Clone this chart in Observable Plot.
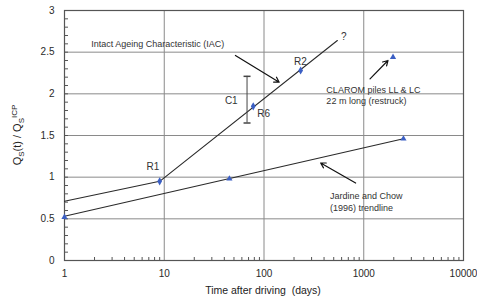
<!DOCTYPE html>
<html><head>
<meta charset="utf-8">
<script src="https://cdn.jsdelivr.net/npm/d3@7"></script>
<script src="https://cdn.jsdelivr.net/npm/@observablehq/plot@0.6"></script>
<style>body{margin:0;background:#fff}svg{display:block}</style>
</head><body><div id="chart"></div>
<script>
// Jardine and Chow (1996) data points and trendline
const jcDays = [1, 45, 2500];
const jcRatio = [0.52, 0.98, 1.46];
const jcTrendDays = [1, 2500];
const jcTrendRatio = [0.53, 1.46];
// Intact Ageing Characteristic
const iacLowDays = [1, 9];
const iacLowRatio = [0.71, 0.95];
const iacDays = [9, 544];
const iacRatio = [0.95, 2.64];
// Restrike tests
const rLabels = ["R1", "R6", "R2"];
const rDays = [9, 78, 233];
const rRatio = [0.95, 1.85, 2.28];
const rLabelDays = [7.7, 99, 232];
const rLabelRatio = [1.12, 1.76, 2.38];
// CLAROM
const claromDays = [1965];
const claromRatio = [2.44];
// C1 range
const c1Days = 67.6, c1Low = 1.65, c1High = 2.21;
const c1LabelDays = 47, c1LabelRatio = 1.92;
// annotations
const noteText = ["Intact Ageing Characteristic (IAC)", "CLAROM piles LL & LC\n22 m long (restruck)", "Jardine and Chow\n(1996) trendline", "?"];
const noteDays = [1.85, 422, 459, 590];
const noteRatio = [2.61, 1.985, 0.71, 2.7];
const arrowFromDays = [51.7, 1156, 829];
const arrowFromRatio = [2.46, 2.18, 0.93];
const arrowToDays = [142, 1750, 370];
const arrowToRatio = [2.14, 2.40, 1.17];
// axes
const xTicks = [1, 10, 100, 1000, 10000];
const yTicks = [0, 0.5, 1, 1.5, 2, 2.5, 3];
const gridDays = [10, 100, 1000];
const gridRatio = [0.5, 1, 1.5, 2, 2.5];
const minorRatio = d3.range(1, 30).map(i => i / 10);
const minorDays = [1, 10, 100, 1000].flatMap(d => [2,3,4,5,6,7,8,9].map(m => m * d));

const blue = "#3b5fc4";
const ink = "#2a2a2a";
const zip = (xs, ys) => xs.map((x, i) => ({x, y: ys[i]}));
const capSymbol = {draw(ctx) { ctx.moveTo(-3.5, 0); ctx.lineTo(3.5, 0); }};

const chart = Plot.plot({
  width: 477, height: 302,
  marginLeft: 64, marginRight: 14, marginTop: 10, marginBottom: 42,
  style: {fontFamily: "'Liberation Sans', Arial, sans-serif", fontSize: "10px", color: ink, background: "#fff"},
  x: {type: "log", domain: [1, 10000]},
  y: {domain: [0, 3]},
  marks: [
    Plot.gridX(gridDays, {stroke: "#8a8a8a", strokeOpacity: 1}),
    Plot.gridY(gridRatio, {stroke: "#8a8a8a", strokeOpacity: 1}),
    Plot.tickY(minorRatio, {y: d => d, insetRight: 395, stroke: "#555"}),
    Plot.tickX(minorDays, {x: d => d, insetTop: 247, stroke: "#555"}),
    Plot.frame({stroke: "#555", strokeWidth: 1.2}),
    Plot.axisX(xTicks, {tickSize: 0, tickPadding: 9, tickFormat: d => String(d), label: null, fontSize: 10}),
    Plot.axisY(yTicks, {tickSize: 0, tickPadding: 10, tickFormat: d => String(d), label: null, fontSize: 10}),
    // lines
    Plot.line(zip(jcTrendDays, jcTrendRatio), {x: "x", y: "y", stroke: ink, strokeWidth: 1.1}),
    Plot.line(zip(iacLowDays, iacLowRatio), {x: "x", y: "y", stroke: ink, strokeWidth: 1.1}),
    Plot.line(zip(iacDays, iacRatio), {x: "x", y: "y", stroke: ink, strokeWidth: 1.1}),
    // C1 bar
    Plot.ruleX([c1Days], {x: d => d, y1: c1Low, y2: c1High, stroke: "#444"}),
    Plot.dot([c1Low, c1High], {x: c1Days, y: d => d, symbol: capSymbol, stroke: "#444", r: 3}),
    // arrows
    Plot.arrow(arrowFromDays.map((d, i) => i), {
      x1: i => arrowFromDays[i], y1: i => arrowFromRatio[i],
      x2: i => arrowToDays[i], y2: i => arrowToRatio[i],
      stroke: "#111", strokeWidth: 1.2, headLength: 7
    }),
    // markers
    Plot.dot(zip(jcDays, jcRatio), {x: "x", y: "y", symbol: "triangle", r: 2.3, fill: blue}),
    Plot.dot(zip(claromDays, claromRatio), {x: "x", y: "y", symbol: "triangle", r: 2.3, fill: blue}),
    Plot.dot(zip(rDays, rRatio), {x: "x", y: "y", symbol: "diamond", r: 2.5, fill: blue}),
    // labels
    Plot.text(rLabels, {x: (d, i) => rLabelDays[i], y: (d, i) => rLabelRatio[i], text: d => d, fontSize: 10, fill: "#333"}),
    Plot.text(["C1"], {x: c1LabelDays, y: c1LabelRatio, text: d => d, fontSize: 10, fill: "#333"}),
    Plot.text(noteText, {x: (d, i) => noteDays[i], y: (d, i) => noteRatio[i], text: d => d, textAnchor: "start", fontSize: (d, i) => i === 3 ? 10 : 9, lineHeight: 1.25, fill: "#333"})
  ]
});

const svg = d3.select(chart);
svg.append("text")
  .attr("x", 263).attr("y", 294)
  .attr("text-anchor", "middle")
  .attr("font-size", 10.5).attr("fill", "#222")
  .attr("font-family", "'Liberation Sans', Arial, sans-serif")
  .text("Time after driving  (days)");

const yl = svg.append("text")
  .attr("transform", "translate(21,135) rotate(-90)")
  .attr("text-anchor", "middle")
  .attr("font-size", 11).attr("fill", "#222")
  .attr("font-family", "'Liberation Sans', Arial, sans-serif");
yl.append("tspan").text("Q");
yl.append("tspan").attr("font-size", 8).attr("dy", 3).text("S");
yl.append("tspan").attr("dy", -3).text("(t) / Q");
yl.append("tspan").attr("font-size", 8).attr("dy", 3).text("S");
yl.append("tspan").attr("font-size", 8).attr("dy", -7).text("ICP");

document.getElementById("chart").appendChild(chart);
</script>
</body></html>
